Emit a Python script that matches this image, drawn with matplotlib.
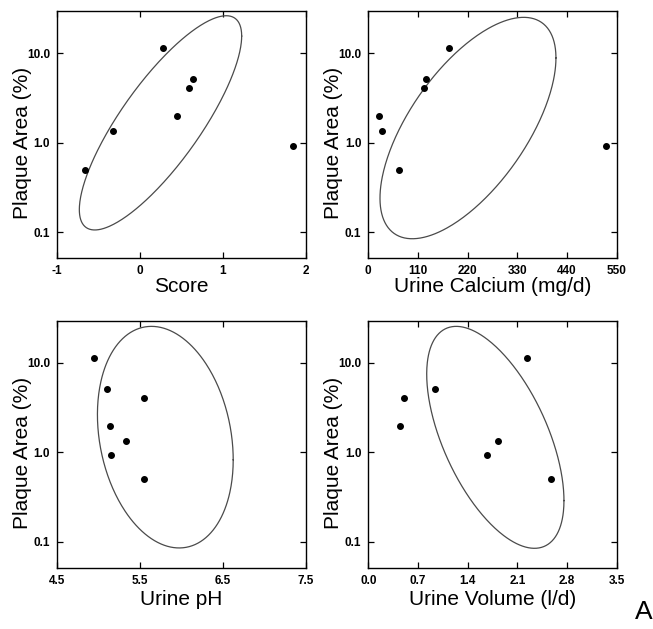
import numpy as np
import matplotlib
matplotlib.use('Agg')
import matplotlib.pyplot as plt
from matplotlib.ticker import FixedLocator, FixedFormatter

plt.rcParams['font.family'] = ['Liberation Sans', 'DejaVu Sans']

# plaque area (%) for each subject, shared by all four panels
plaque = [0.50, 1.35, 11.5, 2.0, 4.1, 5.1, 0.93]

score = [-0.66, -0.32, 0.28, 0.45, 0.59, 0.635, 1.84]
calcium = [68, 31, 178, 24, 123, 128, 526]
ph = [5.55, 5.33, 4.95, 5.14, 5.55, 5.10, 5.15]
volume = [2.57, 1.83, 2.23, 0.45, 0.51, 0.94, 1.67]

# ellipses: centre x, half x-extent, centre log10(y), half log10 extent, phase
ell_score = [0.247, 0.978, 0.223, 1.197, 0.627]
ell_calcium = [220.7, 194.8, 0.165, 1.237, 0.885]
ell_ph = [5.805, 0.818, 0.171, 1.238, 1.776]
ell_volume = [1.790, 0.967, 0.169, 1.240, 2.177]

panels = [
    ('Score', score, ell_score, [-1, 0, 1, 2], ['-1', '0', '1', '2']),
    ('Urine Calcium (mg/d)', calcium, ell_calcium, [0, 110, 220, 330, 440, 550],
     ['0', '110', '220', '330', '440', '550']),
    ('Urine pH', ph, ell_ph, [4.5, 5.5, 6.5, 7.5], ['4.5', '5.5', '6.5', '7.5']),
    ('Urine Volume (l/d)', volume, ell_volume, [0.0, 0.7, 1.4, 2.1, 2.8, 3.5],
     ['0.0', '0.7', '1.4', '2.1', '2.8', '3.5']),
]

positions = [
    [0.0873, 0.5898, 0.3813, 0.3927],
    [0.5640, 0.5898, 0.3804, 0.3927],
    [0.0873, 0.0975, 0.3813, 0.3927],
    [0.5640, 0.0975, 0.3804, 0.3927],
]
xlab_y = [-0.077, -0.077, -0.09, -0.09]

fig = plt.figure(figsize=(6.53, 6.29), dpi=100)

t = np.linspace(0, 2 * np.pi, 400)
for (xlabel, xs, ell, xt, xtl), pos, ly in zip(panels, positions, xlab_y):
    ax = fig.add_axes(pos)
    cx, a, cy, b, phi = ell
    ex = cx + a * np.cos(t)
    ey = 10 ** (cy + b * np.cos(t + phi))
    ax.plot(ex, ey, color='#4a4a4a', lw=0.9)
    ax.plot(xs, plaque, 'o', color='black', ms=4, mec='black')
    ax.set_yscale('log')
    ax.set_ylim(0.0516, 29.7)
    ax.set_xlim(xt[0], xt[-1])
    ax.yaxis.set_major_locator(FixedLocator([0.1, 1.0, 10.0]))
    ax.yaxis.set_major_formatter(FixedFormatter(['0.1', '1.0', '10.0']))
    ax.yaxis.set_minor_locator(FixedLocator([]))
    ax.xaxis.set_major_locator(FixedLocator(xt))
    ax.xaxis.set_major_formatter(FixedFormatter(xtl))
    ax.tick_params(direction='in', length=4, width=0.9, top=True, right=True,
                   labelsize=8.5, pad=5)
    for lab in ax.get_xticklabels() + ax.get_yticklabels():
        lab.set_fontweight('bold')
    for sp in ax.spines.values():
        sp.set_linewidth(1.0)
    ax.set_xlabel(xlabel, fontsize=15)
    ax.set_ylabel('Plaque Area (%)', fontsize=15)
    ax.xaxis.set_label_coords(0.5, ly)
    ax.yaxis.set_label_coords(-0.10, 0.464)

fig.text(0.999, 0.008, 'A', fontsize=19, ha='right', va='bottom')

plt.savefig('out.png', dpi=100)
